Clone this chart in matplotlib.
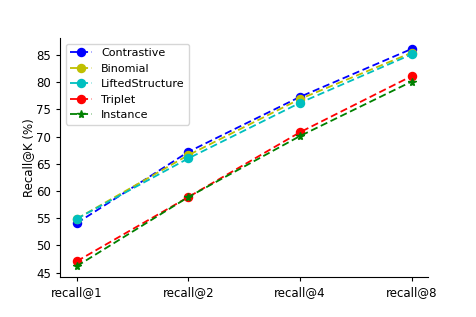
import matplotlib
matplotlib.use("Agg")
import matplotlib.pyplot as plt
from matplotlib.ticker import MultipleLocator

categories = ["recall@1", "recall@2", "recall@4", "recall@8"]
contrastive = [54.1, 67.2, 77.3, 86.1]
binomial = [54.9, 66.6, 76.9, 85.4]
lifted = [54.9, 66.0, 76.2, 85.1]
triplet = [47.1, 58.9, 70.8, 81.1]
instance = [46.2, 58.9, 70.1, 80.1]

fig = plt.figure(figsize=(4.76, 3.17), dpi=100)
ax = fig.add_axes([0.126, 0.126, 0.774, 0.754])
x = list(range(len(categories)))
kw = dict(linewidth=1.3, markersize=5.8, dashes=(4.0, 2.0))
ax.plot(x, contrastive, "b--o", label="Contrastive", **kw)
ax.plot(x, binomial, "y--o", label="Binomial", **kw)
ax.plot(x, lifted, "c--o", label="LiftedStructure", **kw)
ax.plot(x, triplet, "r--o", label="Triplet", **kw)
ax.plot(x, instance, "g--*", label="Instance", **kw)
ax.set_xticks(x)
ax.set_xticklabels(categories, fontsize=8.5)
ax.yaxis.set_major_locator(MultipleLocator(5))
ax.tick_params(axis="y", labelsize=8.5)
ax.tick_params(length=3)
ax.set_ylabel("Recall@K (%)", fontsize=8.5, labelpad=1)
ax.spines["top"].set_visible(False)
ax.spines["right"].set_visible(False)
ax.legend(loc="upper left", fontsize=8)
fig.savefig("out.png", dpi=100)
